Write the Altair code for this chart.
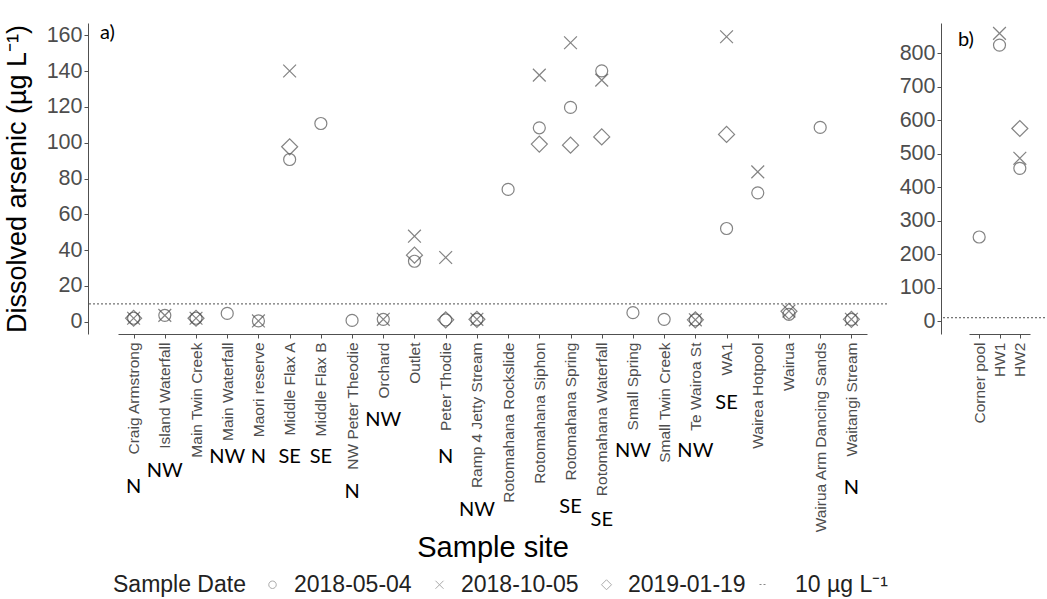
import altair as alt
import pandas as pd

# ---- data -------------------------------------------------------------
dates = ["2018-05-04", "2018-10-05", "2019-01-19"]

sites_a = [
    "Craig Armstrong", "Island Waterfall", "Main Twin Creek", "Main Waterfall",
    "Maori reserve", "Middle Flax A", "Middle Flax B", "NW Peter Theodie",
    "Orchard", "Outlet", "Peter Thodie", "Ramp 4 Jetty Stream",
    "Rotomahana Rockslide", "Rotomahana Siphon", "Rotomahana Spring",
    "Rotomahana Waterfall", "Small Spring", "Small Twin Creek", "Te Wairoa St",
    "WA1", "Wairea Hotpool", "Wairua", "Wairua Arm Dancing Sands", "Waitangi Stream",
]
as_a_0504 = [2.0, 3.6, 2.0, 4.7, 0.5, 90.6, 110.7, 0.8, 1.4, 33.8, 1.1, 1.4,
             73.9, 108.3, 119.7, 140.1, 5.1, 1.4, 1.1, 52.1, 72.0, 4.2, 108.5, 1.4]
as_a_1005 = [2.0, 3.6, 2.0, None, 0.5, 140.0, None, None, 1.4, 47.8, 35.9, 1.4,
             None, 137.7, 155.8, 134.9, None, None, 1.1, 159.1, 83.7, 6.0, None, 1.4]
as_a_0119 = [2.0, None, 2.0, None, None, 97.7, None, None, None, 37.2, 1.1, 1.4,
             None, 99.2, 98.6, 103.2, None, None, 1.1, 104.6, None, 5.9, None, 1.4]
direction = ["N", "NW", "", "NW", "N", "SE", "SE", "N", "NW", "", "N", "NW",
             "", "", "SE", "SE", "NW", "", "NW", "SE", "", "", "", "N"]

sites_b = ["Corner pool", "HW1", "HW2"]
as_b_0504 = [251.0, 824.0, 456.0]
as_b_1005 = [None, 859.0, 486.0]
as_b_0119 = [None, None, 575.0]

ticks_a = [0, 20, 40, 60, 80, 100, 120, 140, 160]
ticks_b = [0, 100, 200, 300, 400, 500, 600, 700, 800]

guideline = 10  # µg/L drinking-water limit
guideline_label = "10 µg L⁻¹"


def long_table(sites, series):
    rows = []
    for i, s in enumerate(sites):
        for d, vals in zip(dates, series):
            if vals[i] is not None:
                rows.append({"site": s, "date": d, "value": vals[i]})
    return pd.DataFrame(rows)


df_a = long_table(sites_a, [as_a_0504, as_a_1005, as_a_0119])
df_b = long_table(sites_b, [as_b_0504, as_b_1005, as_b_0119])
df_dir = pd.DataFrame({"site": sites_a, "dir": direction})
df_dir = df_dir[df_dir["dir"] != ""]
df_rule = pd.DataFrame({"value": [guideline], "lab": [guideline_label]})

# ---- styling ----------------------------------------------------------
SANS = "Liberation Sans"
CAL = "Lato"
GREY = "#505050"
CIRCLE = "M0.75,0A0.75,0.75,0,1,1,-0.75,0A0.75,0.75,0,1,1,0.75,0Z"
CROSS = "M-0.8,-0.8L0.8,0.8M-0.8,0.8L0.8,-0.8"
DIAMOND = "M-1,0L0,-1L1,0L0,1Z"

# vertical drop (px below the plot top) of each orientation tag
tag_drop = {
    "Craig Armstrong": 464, "Island Waterfall": 448, "Main Waterfall": 434,
    "Maori reserve": 434, "Middle Flax A": 434, "Middle Flax B": 434,
    "NW Peter Theodie": 469, "Orchard": 397, "Peter Thodie": 434,
    "Ramp 4 Jetty Stream": 487, "Rotomahana Spring": 484,
    "Rotomahana Waterfall": 497, "Small Spring": 428, "Te Wairoa St": 428,
    "WA1": 380, "Waitangi Stream": 465,
}

PAD_L, PAD_T = 3, 23

shape_enc = alt.Shape(
    "date:N",
    scale=alt.Scale(domain=dates, range=[CIRCLE, CROSS, DIAMOND]),
    legend=alt.Legend(
        title="Sample Date", orient="none", legendX=25, legendY=550,
        direction="horizontal", titleOrient="left", titleFontSize=23,
        titleFont=SANS, titleFontWeight="normal", titleColor="#222222",
        titlePadding=15, labelFont=SANS, labelFontSize=23, labelColor="#222222",
        symbolSize=100, symbolStrokeColor="#888888", symbolStrokeWidth=1,
        labelOffset=10, columnPadding=16,
    ),
)

dash_enc = alt.StrokeDash(
    "lab:N",
    scale=alt.Scale(range=[[2, 2]]),
    legend=alt.Legend(
        title=None, orient="none", legendX=664, legendY=550,
        labelFont=SANS, labelFontSize=23, labelColor="#222222",
        symbolType="stroke", symbolSize=64, symbolStrokeColor="#888888",
        symbolStrokeWidth=1, labelOffset=20,
    ),
)


def axis_x(title, **kw):
    return alt.Axis(
        title=title, labelAngle=270, labelAlign="right", labelBaseline="middle",
        labelFont=SANS, labelFontSize=15.5, labelColor="#4d4d4d", labelPadding=4,
        labelLimit=400, labelOverlap=False,
        tickSize=4, tickColor=GREY, domainColor=GREY, grid=False,
        titleFont=SANS, titleFontSize=29, titleFontWeight="normal", titleColor="black",
        **kw,
    )


def axis_y(values, title, **kw):
    return alt.Axis(
        values=values, title=title, labelFont=SANS, labelFontSize=21.5,
        labelColor="#4d4d4d", labelPadding=2, labelOverlap=False, labelFlush=False,
        tickSize=4, tickColor=GREY,
        domainColor=GREY, grid=False, titleFont=SANS, titleFontSize=27,
        titleFontWeight="normal", titleColor="black", **kw,
    )


# ---- panel a ----------------------------------------------------------
W_A, H = 799, 311
x_a = alt.X(
    "site:N", sort=sites_a,
    scale=alt.Scale(type="point", domain=sites_a, range=[30, 779]),
    axis=axis_x("Sample site", titleY=213, titleBaseline="middle"),
)
y_a = alt.Y(
    "value:Q",
    scale=alt.Scale(domain=[-6.8, 166.8], nice=False, zero=False),
    axis=axis_y(ticks_a, "Dissolved arsenic (µg L⁻¹)",
                titleX=-71, titleBaseline="middle"),
)

pts_a = alt.Chart(df_a).mark_point(filled=False, size=256, strokeWidth=1.2, color=GREY).encode(
    x=x_a, y=y_a, shape=shape_enc
)
rule_a = alt.Chart(df_rule).mark_rule(strokeWidth=1, color=GREY).encode(
    y=y_a, strokeDash=dash_enc
)
tag_layers = []
for drop in sorted(set(tag_drop.values())):
    names = [s for s, v in tag_drop.items() if v == drop]
    tag_layers.append(
        alt.Chart(df_dir[df_dir["site"].isin(names)])
        .mark_text(font=CAL, fontSize=20, color="black", baseline="middle")
        .encode(x=x_a, y=alt.value(drop), text="dir:N")
    )
tag_a = alt.Chart(df_rule).mark_text(
    font=CAL, fontSize=20, color="black", align="left", baseline="middle"
).encode(x=alt.value(12), y=alt.value(10), text=alt.value("a)"))

panel_a = alt.layer(pts_a, rule_a, *tag_layers, tag_a).properties(width=W_A, height=H)

# ---- panel b ----------------------------------------------------------
W_B = 104
x_b = alt.X(
    "site:N", sort=sites_b,
    scale=alt.Scale(type="point", domain=sites_b, range=[28, 89]),
    axis=axis_x(None),
)
y_b = alt.Y(
    "value:Q",
    scale=alt.Scale(domain=[-38.6, 890], nice=False, zero=False),
    axis=axis_y(ticks_b, None),
)
pts_b = alt.Chart(df_b).mark_point(filled=False, size=256, strokeWidth=1.2, color=GREY).encode(
    x=x_b, y=y_b, shape=shape_enc
)
rule_b = alt.Chart(df_rule).mark_rule(strokeWidth=1, color=GREY).encode(
    y=y_b, strokeDash=dash_enc
)
tag_b = alt.Chart(df_rule).mark_text(
    font=CAL, fontSize=20, color="black", align="left", baseline="middle"
).encode(x=alt.value(17), y=alt.value(17), text=alt.value("b)"))

panel_b = alt.layer(pts_b, rule_b, tag_b).properties(width=W_B, height=H)

chart = (
    alt.hconcat(panel_a, panel_b, spacing=11)
    .resolve_scale(x="independent", y="independent", shape="shared", strokeDash="shared")
    .properties(
        padding={"left": PAD_L, "top": PAD_T, "right": 0, "bottom": 0},
        background="white",
    )
    .configure_view(stroke=None)
    .configure_axis(labelOverlap=False)
)

chart.save("out.html", embed_options={"renderer": "svg", "actions": False})
